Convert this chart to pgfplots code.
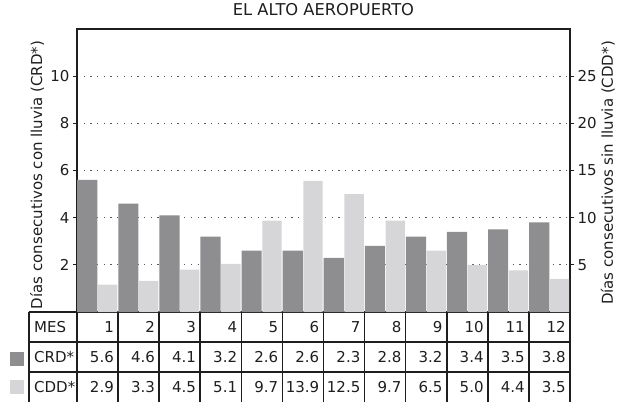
\documentclass[border=0pt]{standalone}
\usepackage{pgfplots}
\pgfplotsset{compat=1.18}
\usepackage{pgfplotstable}
\usepackage{fontspec}
\setmainfont{DejaVu Sans}

\definecolor{crdgray}{RGB}{142,142,144}
\definecolor{cddgray}{RGB}{214,214,216}
\definecolor{ink}{RGB}{30,30,30}

\pgfplotstableread{
mes crd cdd
1  5.6 2.9
2  4.6 3.3
3  4.1 4.5
4  3.2 5.1
5  2.6 9.7
6  2.6 13.9
7  2.3 12.5
8  2.8 9.7
9  3.2 6.5
10 3.4 5.0
11 3.5 4.4
12 3.8 3.5
}\datatable

\newcommand{\tfont}{\fontsize{15}{18}\selectfont}

\begin{document}
\begin{tikzpicture}[x=1pt,y=1pt]
\useasboundingbox (0,0) rectangle (630,-402);

% left axis: rainy days + table
\begin{axis}[
  at={(77pt,-312pt)}, anchor=south west,
  scale only axis, width=493pt, height=283pt,
  xmin=0.5, xmax=12.5, ymin=0, ymax=12,
  xtick=\empty,
  ytick={2,4,6,8,10}, ytick pos=left,
  tick align=outside, major tick length=4pt,
  tick style={ink, line width=1.1pt},
  axis line style={ink, line width=1.5pt},
  ymajorgrids,
  grid style={black!65, line width=1.2pt, dash pattern=on 1.3pt off 5.4pt},
  font=\tfont, text=ink,
  /pgf/number format/assume math mode=true,
  title={EL ALTO AEROPUERTO},
  title style={at={(axis description cs:0.5,1.046)}, anchor=center, font=\fontsize{16.3}{19}\selectfont},
  ylabel={Días consecutivos con lluvia (CRD*)},
  ylabel style={at={(axis description cs:-0.081,0.484)}, anchor=center},
  clip=false,
]
\addplot[ybar, bar width=0.49, bar shift=-0.25, fill=crdgray, draw=none]
  table[x=mes, y=crd]{\datatable};

% table cells
\addplot[draw=none, mark=none, forget plot, nodes near coords, point meta=explicit symbolic,
  every node near coord/.append style={anchor=east, inner sep=0pt, xshift=16.5pt, font=\tfont, text=ink}]
  table[x=mes, y expr=-0.64, meta=mes]{\datatable};
\addplot[draw=none, mark=none, forget plot, nodes near coords, point meta=explicit symbolic,
  every node near coord/.append style={anchor=east, inner sep=0pt, xshift=16.5pt, font=\tfont, text=ink}]
  table[x=mes, y expr=-1.91, meta=crd]{\datatable};
\addplot[draw=none, mark=none, forget plot, nodes near coords, point meta=explicit symbolic,
  every node near coord/.append style={anchor=east, inner sep=0pt, xshift=16.5pt, font=\tfont, text=ink}]
  table[x=mes, y expr=-3.19, meta=cdd]{\datatable};

\pgfplotsinvokeforeach{0,...,12}{
  \draw[ink, line width=1.5pt] (axis cs:#1+0.5,0) -- (axis cs:#1+0.5,-4.0);
}
\draw[ink, line width=1.5pt] (axis cs:-0.668,-1.277) -- (axis cs:12.5,-1.277);
\draw[ink, line width=1.5pt] (axis cs:-0.668,-2.553) -- (axis cs:12.5,-2.553);
\draw[ink, line width=1.5pt] (axis cs:-0.668,0) -- (axis cs:0.5,0);
\draw[ink, line width=1.5pt] (axis cs:-0.668,0) -- (axis cs:-0.668,-4.0);
\end{axis}

% right axis: dry days
\begin{axis}[
  at={(77pt,-312pt)}, anchor=south west,
  scale only axis, width=493pt, height=283pt,
  xmin=0.5, xmax=12.5, ymin=0, ymax=30,
  axis x line=none, axis y line*=right,
  xtick=\empty,
  ytick={5,10,15,20,25},
  tick align=outside, major tick length=4pt,
  tick style={ink, line width=1.1pt},
  axis line style={ink, line width=1.5pt},
  font=\tfont, text=ink,
  /pgf/number format/assume math mode=true,
  ylabel={Días consecutivos sin lluvia (CDD*)},
  ylabel style={at={(axis description cs:1.077,0.491)}, anchor=center, rotate=0},
]
\addplot[ybar, bar width=0.47, bar shift=0.245, fill=cddgray, draw=none]
  table[x=mes, y=cdd]{\datatable};
\end{axis}

% row labels and legend keys
\node[anchor=west, inner sep=0pt, font=\tfont, text=ink] at (34,-327) {MES};
\node[anchor=west, inner sep=0pt, font=\tfont, text=ink] at (34,-357) {CRD*};
\node[anchor=west, inner sep=0pt, font=\tfont, text=ink] at (34,-387) {CDD*};
\fill[crdgray] (10,-352) rectangle (24,-366);
\fill[cddgray] (10,-380) rectangle (24,-394);
\end{tikzpicture}
\end{document}
